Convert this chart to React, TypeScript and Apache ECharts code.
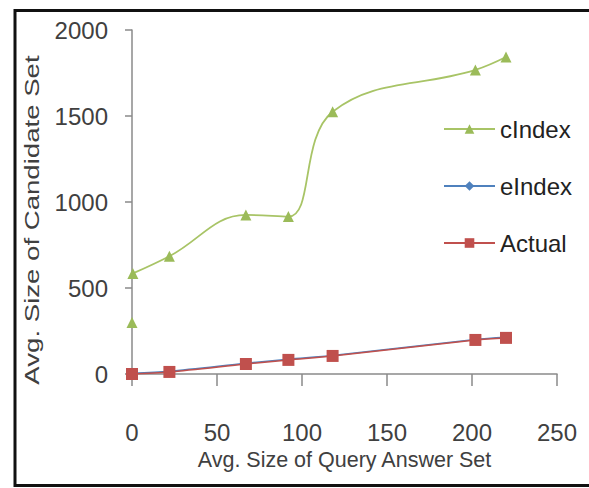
import React, { useEffect, useRef } from "react";
import * as echarts from "echarts";

const cIndexData: (number | string)[][] = [
  [0, 300], [0, "-"], [0.5, 585], [22, 685], [67, 925], [92, 915], [118, 1525], [202, 1768], [220, 1843],
];
const eIndexData: [number, number][] = [
  [0, 4], [22, 16], [67, 62], [92, 86], [118, 108], [202, 200], [220, 213],
];
const actualData: [number, number][] = [
  [0, 0], [22, 12], [67, 58], [92, 82], [118, 105], [202, 198], [220, 210],
];
const seriesNames = ["cIndex", "eIndex", "Actual"];
const xTicks = { min: 0, max: 250, interval: 50 };
const yTicks = { min: 0, max: 2000, interval: 500 };
const xName = "Avg. Size of Query Answer Set";
const yName = "Avg. Size of Candidate Set";

export default function App() {
  const ref = useRef<HTMLDivElement>(null);
  useEffect(() => {
    if (!ref.current) return;
    const chart = echarts.init(ref.current, null, { renderer: "svg" });
    const font = "Liberation Sans, Arial, sans-serif";
    chart.setOption({
      animation: false,
      backgroundColor: "#ffffff",
      grid: { left: 132, right: 32, top: 30, bottom: 114 },
      xAxis: {
        type: "value",
        min: xTicks.min,
        max: xTicks.max,
        interval: xTicks.interval,
        name: xName,
        nameLocation: "middle",
        nameGap: 74,
        nameTextStyle: { fontSize: 21.5, color: "#404040", fontFamily: font },
        axisLine: { show: true, lineStyle: { color: "#8a8a8a", width: 1.5 } },
        axisTick: { show: true, length: 12, lineStyle: { color: "#8a8a8a", width: 1.5 } },
        axisLabel: { fontSize: 24, color: "#404040", fontFamily: font, margin: 46, formatter: (v: number) => String(v) },
        splitLine: { show: false },
      },
      yAxis: {
        type: "value",
        min: yTicks.min,
        max: yTicks.max,
        interval: yTicks.interval,
        axisLine: { show: true, lineStyle: { color: "#8a8a8a", width: 1.5 } },
        axisTick: { show: true, length: 7, lineStyle: { color: "#8a8a8a", width: 1.5 } },
        axisLabel: { fontSize: 24, color: "#404040", fontFamily: font, margin: 24, formatter: (v: number) => String(v) },
        splitLine: { show: false },
      },
      legend: {
        orient: "vertical",
        left: 443,
        top: 117,
        padding: 0,
        itemWidth: 51,
        itemHeight: 12,
        itemGap: 33,
        textStyle: { fontSize: 24, color: "#222", fontFamily: font, lineHeight: 24 },
        data: seriesNames,
      },
      series: [
        {
          name: seriesNames[0],
          type: "line",
          data: cIndexData,
          smooth: 0.4,
          connectNulls: false,
          symbol: "triangle",
          symbolSize: 11,
          itemStyle: { color: "#9bbb59" },
          lineStyle: { color: "#a8c466", width: 1.8 },
        },
        {
          name: seriesNames[1],
          type: "line",
          data: eIndexData,
          smooth: 0.3,
          symbol: "diamond",
          symbolSize: 10,
          itemStyle: { color: "#4f81bd" },
          lineStyle: { color: "#4f81bd", width: 1.5 },
        },
        {
          name: seriesNames[2],
          type: "line",
          data: actualData,
          smooth: 0.3,
          symbol: "rect",
          symbolSize: 12,
          itemStyle: { color: "#c0504d" },
          lineStyle: { color: "#c0504d", width: 1.5 },
        },
      ],
      graphic: [
        {
          type: "text",
          x: 32,
          y: 220,
          rotation: Math.PI / 2,
          scaleX: 1.38,
          silent: true,
          style: {
            text: yName,
            fontSize: 20,
            fontFamily: font,
            fill: "#404040",
            align: "center",
            verticalAlign: "middle",
          },
        },
        {
          type: "rect",
          shape: { x: 15, y: 10.5, width: 620, height: 475 },
          style: { fill: "none", stroke: "#111", lineWidth: 3 },
          silent: true,
        },
      ],
    });
    return () => chart.dispose();
  }, []);
  return (
    <div
      ref={ref}
      style={{ position: "fixed", left: 0, top: 0, width: 589, height: 488 }}
    />
  );
}
